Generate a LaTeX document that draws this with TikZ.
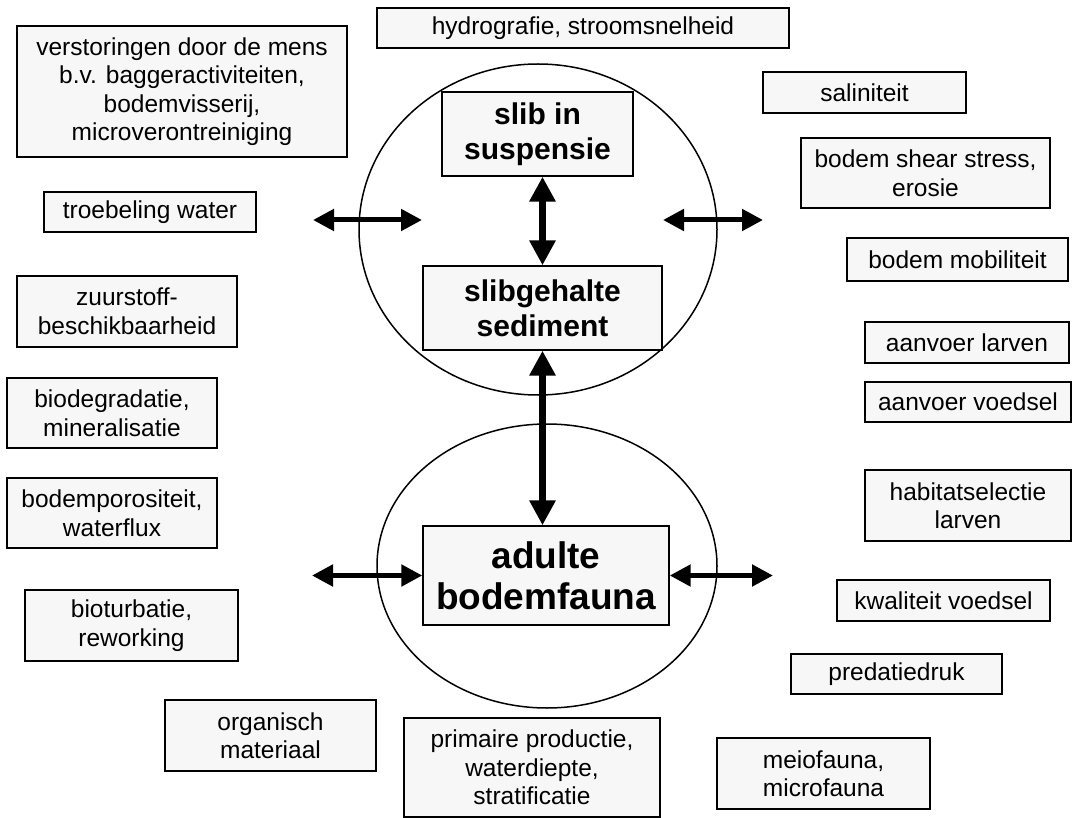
\documentclass[tikz,border=0pt]{standalone}
\usepackage{fontspec}
\setmainfont{Liberation Sans}
\usepackage{xcolor}
\definecolor{boxgray}{RGB}{247,247,247}
\usepackage{tikz}
\usetikzlibrary{arrows.meta,shapes.geometric}

\begin{document}
\begin{tikzpicture}[
  x=1pt,y=-1pt,
  factor/.style={draw,line width=1.4pt,fill=boxgray,align=center,inner sep=0pt,
    font=\fontsize{24.5}{28.5}\selectfont},
  core/.style={factor,font=\fontsize{30}{35}\selectfont\bfseries},
  zone/.style={draw,ellipse,line width=1.5pt,inner sep=0pt},
  vlink/.style={line width=7pt,{Triangle[length=25pt,width=25pt]}-{Triangle[length=25pt,width=25pt]}},
  hlink/.style={line width=5pt,{Triangle[length=21pt,width=21pt]}-{Triangle[length=21pt,width=21pt]}}
]
\useasboundingbox (0,0) rectangle (1074,818);
% Zones
\node[zone,minimum width=358,minimum height=331] (upperzone) at (538,229.5) {};
\node[zone,minimum width=340,minimum height=284] (lowerzone) at (547,566) {};
% Core boxes
\node[core,minimum width=191,minimum height=84] (slib) at (537.5,134) {slib in\\suspensie};
\node[core,minimum width=239,minimum height=84] (gehalte) at (542.5,308) {slibgehalte\\sediment};
\node[core,minimum width=246,minimum height=99,font=\fontsize{37}{41}\selectfont\bfseries] (fauna) at (546,575.5) {adulte\\bodemfauna};
% Factors, left side
\node[factor,minimum width=330,minimum height=131] (verst) at (182,91.5) {verstoringen door de mens\\b.v. baggeractiviteiten,\\bodemvisserij,\\microverontreiniging};
\node[factor,minimum width=212,minimum height=40] (troeb) at (150,212) {troebeling water};
\node[factor,minimum width=220,minimum height=71] (zuur) at (127,311.5) {zuurstoff-\\beschikbaarheid};
\node[factor,minimum width=210,minimum height=70] (biodeg) at (112,413) {biodegradatie,\\mineralisatie};
\node[factor,minimum width=210,minimum height=70] (poros) at (112,513) {bodemporositeit,\\waterflux};
\node[factor,minimum width=213,minimum height=71] (biot) at (131.5,625.5) {bioturbatie,\\reworking};
% Factors, bottom
\node[factor,minimum width=211,minimum height=71] (organ) at (270.5,735.5) {organisch\\materiaal};
\node[factor,minimum width=256,minimum height=99] (prim) at (532,767.5) {primaire productie,\\waterdiepte,\\stratificatie};
\node[factor,minimum width=213,minimum height=71] (meio) at (823.5,773.5) {meiofauna,\\microfauna};
% Factors, top and right side
\node[factor,minimum width=412,minimum height=40] (hydro) at (583,28) {hydrografie, stroomsnelheid};
\node[factor,minimum width=203,minimum height=41] (salin) at (864.5,92.5) {saliniteit};
\node[factor,minimum width=249,minimum height=70] (shear) at (925.5,173) {bodem shear stress,\\erosie};
\node[factor,minimum width=221,minimum height=43] (mobil) at (957.5,259.5) {bodem mobiliteit};
\node[factor,minimum width=204,minimum height=41] (larv) at (967,342.5) {aanvoer larven};
\node[factor,minimum width=206,minimum height=40] (voed) at (968,402) {aanvoer voedsel};
\node[factor,minimum width=206,minimum height=71] (habit) at (968,505.5) {habitatselectie\\larven};
\node[factor,minimum width=213,minimum height=41] (kwal) at (943.5,600.5) {kwaliteit voedsel};
\node[factor,minimum width=211,minimum height=40] (pred) at (896.5,674) {predatiedruk};
% Free arrow ends
\coordinate (ulA) at (313,220);
\coordinate (ulB) at (422,220);
\coordinate (urA) at (663,220);
\coordinate (urB) at (763,220);
\coordinate (llA) at (312,575.5);
\coordinate (lrB) at (773,575.5);
% Arrows
\draw[vlink] (gehalte.north) -- (gehalte.north |- slib.south);
\draw[vlink] (gehalte.south) -- (gehalte.south |- fauna.north);
\draw[hlink] (ulA) -- (ulB);
\draw[hlink] (urA) -- (urB);
\draw[hlink] (llA) -- (fauna.west);
\draw[hlink] (fauna.east) -- (lrB);
\end{tikzpicture}
\end{document}
